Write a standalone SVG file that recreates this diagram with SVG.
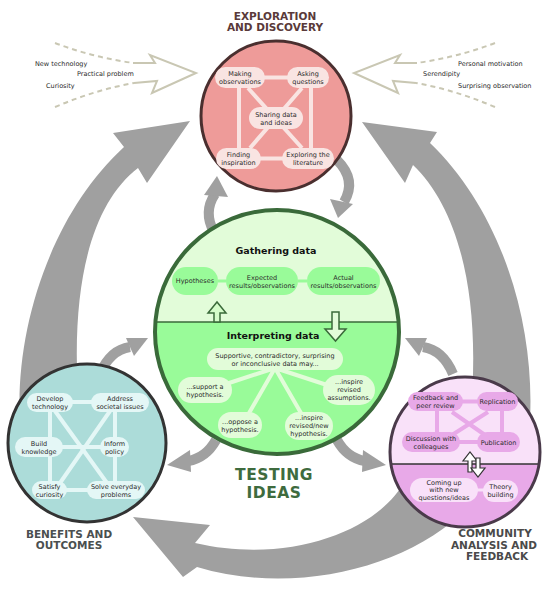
<svg xmlns="http://www.w3.org/2000/svg" width="549" height="591" viewBox="0 0 549 591">
<style>
.t{font-family:"DejaVu Sans",Verdana,sans-serif;font-size:6.5px;fill:#2b2b2b;text-anchor:middle}
.s{font-family:"DejaVu Sans",Verdana,sans-serif;font-size:6.5px;fill:#2b2b2b}
.h{font-family:"DejaVu Sans",Verdana,sans-serif;font-weight:bold;text-anchor:middle}
.gray{fill:#a0a0a0}
.gs{fill:none;stroke:#a0a0a0;stroke-width:10}
.inp{fill:none;stroke:#c9c7b3;stroke-width:2;stroke-linejoin:miter}
.dash{stroke-dasharray:5 4}
.pl{stroke:#f9e4e2;stroke-width:4;fill:none}
.pn{fill:#f9e4e2}
.tl{stroke:#e4f7f6;stroke-width:4;fill:none}
.tn{fill:#e4f7f6}
.ml{stroke:#e8a9e8;stroke-width:4;fill:none}
.mn{fill:#e8a9e8}
.ml2{fill:#f9e1f9}
.gl{stroke:#e2fcd9;stroke-width:4;fill:none}
.gn{fill:#e2fcd9}
.gn2{fill:#99fb99}
</style>

<g id="connectors">
  <!-- big cycle arrows -->
  <path class="gray" d="M20 420 C15 330 50 215 124 147 L113 133 L190 121 L147 183 L138 168 C90 205 68 290 80 420 Z"/>
  <path class="gray" d="M530 420 C535 320 500 210 430 143 L437 132 L362 122 L405 183 L413 165 C460 210 482 300 470 420 Z"/>
  <path class="gray" d="M405 480 C380 530 290 565 195 543 L210 525 L133 517 L183 577 L197 567 C290 595 400 570 460 515 Z"/>
  <!-- small arrows -->
  <path class="gs" stroke-width="9" d="M214 232 Q203 212 215 194"/>
  <polygon class="gray" points="204,195 217,176 228,197"/>
  <path class="gs" stroke-width="9" d="M337 160 Q357 180 344 202"/>
  <polygon class="gray" points="330,199 353,204 338,218"/>
  <path class="gs" d="M100 374 Q110 350 130 347"/>
  <polygon class="gray" points="126,338 148,338 134,356"/>
  <path class="gs" d="M453 374 Q443 350 423 347"/>
  <polygon class="gray" points="427,338 405,338 419,356"/>
  <path class="gs" d="M216 440 Q206 458 188 461"/>
  <polygon class="gray" points="190,450 167,465 191,472"/>
  <path class="gs" d="M337 440 Q347 458 365 461"/>
  <polygon class="gray" points="363,450 386,465 362,472"/>
  <!-- input arrows -->
  <path class="inp dash" d="M55 43 Q95 58 134 63"/>
  <path class="inp dash" d="M55 107 Q95 90 134 83"/>
  <path class="inp" d="M133 63 L155 63 L150 55 L196 73 L152 93 L157 81 L134 83"/>
  <path class="inp dash" d="M495 43 Q455 58 416 63"/>
  <path class="inp dash" d="M495 107 Q455 90 416 83"/>
  <path class="inp" d="M417 63 L395 63 L400 55 L354 73 L398 93 L393 81 L416 83"/>
</g>

<g id="inputs-left">
  <text class="s" x="35" y="65.5">New technology</text>
  <text class="s" x="77" y="76">Practical problem</text>
  <text class="s" x="46" y="88">Curiosity</text>
</g>
<g id="inputs-right">
  <text class="s" x="458" y="65.5">Personal motivation</text>
  <text class="s" x="423" y="76">Serendipity</text>
  <text class="s" x="458" y="88">Surprising observation</text>
</g>

<g id="exploration">
  <text class="h" x="275" y="20" font-size="10.5" fill="#5a3a3a">EXPLORATION<tspan x="275" dy="11">AND DISCOVERY</tspan></text>
  <circle cx="276" cy="116" r="75" fill="#ee9b99" stroke="#4a2f2f" stroke-width="3"/>
  <path class="pl" d="M240 77.5 H308 M239 77 V158 M311 77 V158 M239 158.5 H311 M248 88 L302 148 M302 88 L250 148"/>
  <g id="making-observations"><rect class="pn" x="215" y="67" width="50" height="21" rx="10.5"/><text class="t" x="240" y="76">Making<tspan x="240" dy="8">observations</tspan></text></g>
  <g id="asking-questions"><rect class="pn" x="287" y="67" width="42" height="21" rx="10.5"/><text class="t" x="308" y="76">Asking<tspan x="308" dy="8">questions</tspan></text></g>
  <g id="sharing-data"><rect class="pn" x="249" y="107" width="54" height="22" rx="11"/><text class="t" x="276" y="116.5">Sharing data<tspan x="276" dy="8">and ideas</tspan></text></g>
  <g id="finding-inspiration"><rect class="pn" x="216" y="148" width="45" height="21" rx="10.5"/><text class="t" x="238.5" y="157">Finding<tspan x="238.5" dy="8">inspiration</tspan></text></g>
  <g id="exploring-literature"><rect class="pn" x="282" y="148" width="52" height="21" rx="10.5"/><text class="t" x="308" y="157">Exploring the<tspan x="308" dy="8">literature</tspan></text></g>
</g>

<g id="testing">
  <circle cx="277" cy="332" r="122" fill="#99fb99"/>
  <path d="M155.4 322 A122 122 0 0 1 398.6 322 Z" fill="#e2fcd9"/>
  <line x1="155" y1="322" x2="399" y2="322" stroke="#3a6a3a" stroke-width="1.5"/>
  <circle cx="277" cy="332" r="122" fill="none" stroke="#3a6a3a" stroke-width="4"/>
  <text class="h" x="276" y="253.5" font-size="9.5" fill="#111">Gathering data</text>
  <path d="M218 281 H226 M298 281 H307" stroke="#99fb99" stroke-width="3"/>
  <g id="hypotheses"><rect class="gn2" x="172" y="267" width="46" height="28" rx="14"/><text class="t" x="195" y="283.4">Hypotheses</text></g>
  <g id="expected"><rect class="gn2" x="226" y="267" width="72" height="28" rx="14"/><text class="t" x="262" y="279.5">Expected<tspan x="262" dy="8">results/observations</tspan></text></g>
  <g id="actual"><rect class="gn2" x="307" y="267" width="73" height="28" rx="14"/><text class="t" x="343.5" y="279.5">Actual<tspan x="343.5" dy="8">results/observations</tspan></text></g>
  <polygon points="214,322 214,313 208,313 217,302 226,313 220,313 220,322" fill="#d4fcc9" stroke="#3a6a3a" stroke-width="1.5"/>
  <polygon points="332,312 332,329 325,329 335.5,341 346,329 339,329 339,312" fill="#e2fcd9" stroke="#3a6a3a" stroke-width="1.5"/>
  <text class="h" x="273" y="339" font-size="9.5" fill="#111">Interpreting data</text>
  <path class="gl" d="M275 368 L220 386 M275 368 L330 386 M275 368 L245 420 M275 368 L305 420"/>
  <g id="supportive"><rect class="gn" x="207" y="348" width="136" height="22" rx="11"/><text class="t" x="275" y="357.5">Supportive, contradictory, surprising<tspan x="275" dy="8">or inconclusive data may...</tspan></text></g>
  <g id="support"><rect class="gn" x="178" y="377" width="54" height="26" rx="13"/><text class="t" x="205" y="388.5">...support a<tspan x="205" dy="8">hypothesis.</tspan></text></g>
  <g id="assumptions"><rect class="gn" x="323" y="375" width="52" height="30" rx="15"/><text class="t" x="349" y="384.3">...inspire<tspan x="349" dy="8">revised</tspan><tspan x="349" dy="8">assumptions.</tspan></text></g>
  <g id="oppose"><rect class="gn" x="218" y="412" width="44" height="26" rx="13"/><text class="t" x="240" y="423.5">...oppose a<tspan x="240" dy="8">hypothesis.</tspan></text></g>
  <g id="new-hypothesis"><rect class="gn" x="285" y="412" width="48" height="28" rx="14"/><text class="t" x="309" y="420.3">...inspire<tspan x="309" dy="8">revised/new</tspan><tspan x="309" dy="8">hypothesis.</tspan></text></g>
  <text class="h" x="274" y="480" font-size="15.5" letter-spacing="0.5" fill="#3e6b3e">TESTING<tspan x="274" dy="18.3">IDEAS</tspan></text>
</g>

<g id="benefits">
  <circle cx="87" cy="443" r="79" fill="#acdcd9" stroke="#333" stroke-width="3"/>
  <path class="tl" d="M50 402 H120 M39 447 H114 M49 490 H116 M50 402 V490 M115 402 V490 M55 411 L107 483 M110 411 L60 483"/>
  <g id="develop"><rect class="tn" x="27" y="393" width="46" height="19" rx="9.5"/><text class="t" x="50" y="401">Develop<tspan x="50" dy="8">technology</tspan></text></g>
  <g id="address"><rect class="tn" x="91" y="393" width="58" height="19" rx="9.5"/><text class="t" x="120" y="401">Address<tspan x="120" dy="8">societal issues</tspan></text></g>
  <g id="build"><rect class="tn" x="15" y="437" width="48" height="20" rx="10"/><text class="t" x="39" y="445.5">Build<tspan x="39" dy="8">knowledge</tspan></text></g>
  <g id="inform"><rect class="tn" x="100" y="437" width="29" height="20" rx="10"/><text class="t" x="114.5" y="445.5">Inform<tspan x="114.5" dy="8">policy</tspan></text></g>
  <g id="satisfy"><rect class="tn" x="32" y="481" width="35" height="18" rx="9"/><text class="t" x="49.5" y="488.5">Satisfy<tspan x="49.5" dy="8">curiosity</tspan></text></g>
  <g id="solve"><rect class="tn" x="87" y="481" width="58" height="18" rx="9"/><text class="t" x="116" y="488.5">Solve everyday<tspan x="116" dy="8">problems</tspan></text></g>
  <text class="h" x="69" y="538" font-size="10.5" fill="#4a4f4f">BENEFITS AND<tspan x="69" dy="11">OUTCOMES</tspan></text>
</g>

<g id="community">
  <circle cx="465" cy="452" r="75" fill="#f9e1f9"/>
  <path d="M391 464 A75 75 0 0 0 539 464 Z" fill="#e8a9e8"/>
  <line x1="390" y1="464" x2="540" y2="464" stroke="#333" stroke-width="1.5"/>
  <circle cx="465" cy="452" r="75" fill="none" stroke="#4a3a4a" stroke-width="3"/>
  <path class="ml" d="M440 401.5 H500 M435 442 H500 M437 401 V442 M502 401 V442 M452 412 L485 435 M488 412 L452 435"/>
  <g id="feedback"><rect class="mn" x="408" y="392" width="55" height="19" rx="9.5"/><text class="t" x="435.5" y="400">Feedback and<tspan x="435.5" dy="8">peer review</tspan></text></g>
  <g id="replication"><rect class="mn" x="477" y="392" width="41" height="19" rx="9.5"/><text class="t" x="497.5" y="404">Replication</text></g>
  <g id="discussion"><rect class="mn" x="402" y="432" width="58" height="20" rx="10"/><text class="t" x="431" y="440.5">Discussion with<tspan x="431" dy="8">colleagues</tspan></text></g>
  <g id="publication"><rect class="mn" x="477" y="432" width="43" height="20" rx="10"/><text class="t" x="498.5" y="444.5">Publication</text></g>
  <line x1="476" y1="490" x2="485" y2="490" stroke="#f9e1f9" stroke-width="3"/>
  <g id="coming-up"><rect class="ml2" x="410" y="478" width="68" height="24" rx="12"/><text class="t" x="444" y="484.5">Coming up<tspan x="444" dy="7.5">with new</tspan><tspan x="444" dy="7.5">questions/ideas</tspan></text></g>
  <g id="theory"><rect class="ml2" x="483" y="480" width="35" height="22" rx="11"/><text class="t" x="500.5" y="489">Theory<tspan x="500.5" dy="8">building</tspan></text></g>
  <polygon points="468,472 468,461 463,461 470,452 477,461 472,461 472,472" fill="#fff" stroke="#333" stroke-width="1.2"/>
  <polygon points="476,458 480,458 480,468 485,468 478,477 471,468 476,468" fill="#fff" stroke="#333" stroke-width="1.2"/>
  <text class="h" x="495" y="537" font-size="10.5" fill="#4a4a4a">COMMUNITY<tspan x="494" dy="11.5">ANALYSIS AND</tspan><tspan x="497" dy="11.5">FEEDBACK</tspan></text>
</g>
</svg>
